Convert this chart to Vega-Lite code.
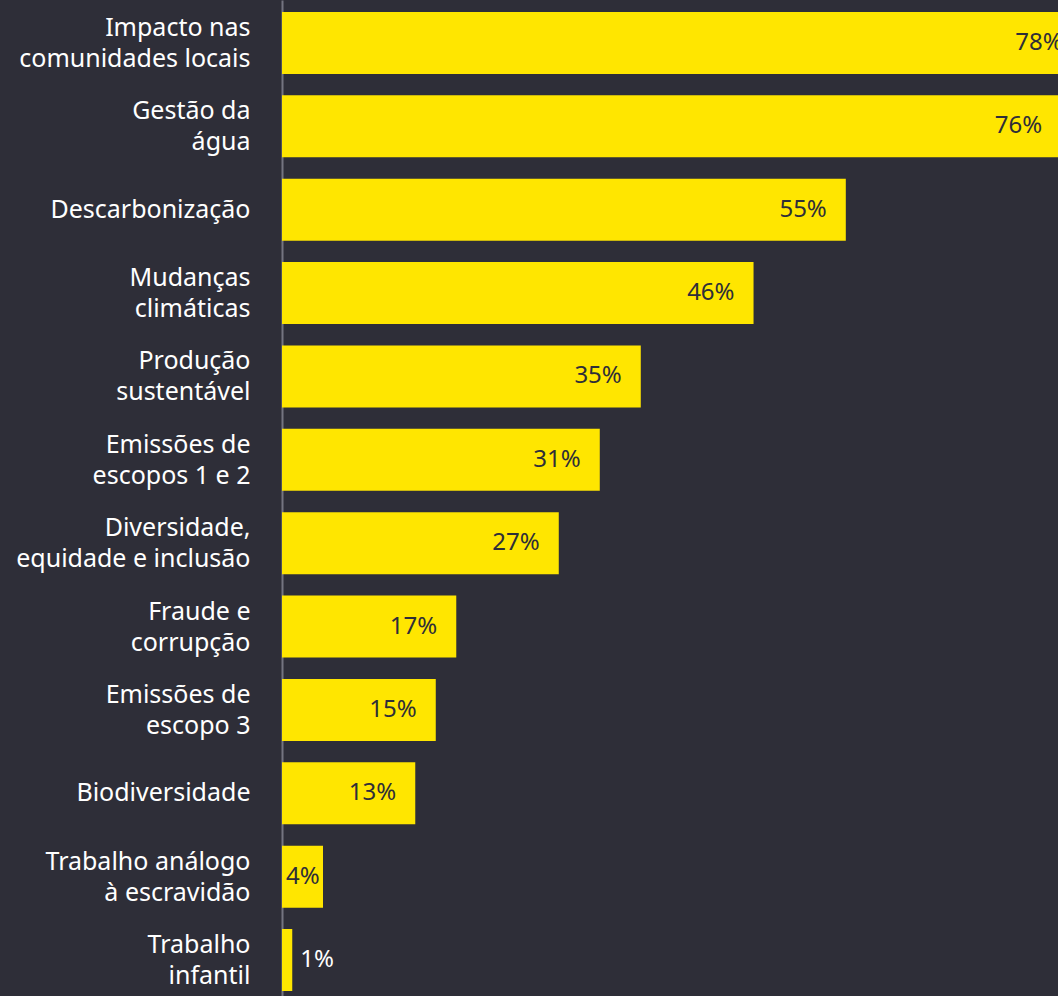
{
  "$schema": "https://vega.github.io/schema/vega-lite/v6.json",
  "width": 776,
  "height": 996,
  "autosize": "none",
  "padding": {"left": 282, "top": 0, "right": 0, "bottom": 0},
  "background": "#2e2e38",
  "config": {"view": {"stroke": null}, "font": "Noto Sans"},
  "data": {"values": [
    {"tema": "Impacto nas|comunidades locais", "pct": 78},
    {"tema": "Gestão da|água", "pct": 76},
    {"tema": "Descarbonização", "pct": 55},
    {"tema": "Mudanças|climáticas", "pct": 46},
    {"tema": "Produção|sustentável", "pct": 35},
    {"tema": "Emissões de|escopos 1 e 2", "pct": 31},
    {"tema": "Diversidade,|equidade e inclusão", "pct": 27},
    {"tema": "Fraude e|corrupção", "pct": 17},
    {"tema": "Emissões de|escopo 3", "pct": 15},
    {"tema": "Biodiversidade", "pct": 13},
    {"tema": "Trabalho análogo|à escravidão", "pct": 4},
    {"tema": "Trabalho|infantil", "pct": 1}
  ]},
  "transform": [{"calculate": "datum.pct + '%'", "as": "rotulo"}],
  "encoding": {
    "y": {
      "field": "tema", "type": "nominal", "sort": null,
      "scale": {"paddingInner": 0.2562, "paddingOuter": 0.102, "align": 0.706},
      "axis": {
        "title": null, "ticks": false, "labelPadding": 32,
        "labelExpr": "split(datum.label, '|')",
        "labelFont": "Noto Sans", "labelFontSize": 25, "labelColor": "#ffffff",
        "labelLineHeight": 31, "labelLimit": 400,
        "labelOffset": {"condition": {"test": "indexof(datum.value, '|') >= 0", "value": -15}, "value": 0},
        "domainColor": "#747480", "domainWidth": 2
      }
    }
  },
  "layer": [
    {
      "mark": {"type": "bar", "color": "#ffe600", "clip": true},
      "encoding": {
        "x": {"field": "pct", "type": "quantitative", "scale": {"domain": [0, 75.7], "nice": false}, "axis": null}
      }
    },
    {
      "transform": [{"filter": "datum.pct >= 10"}],
      "mark": {"type": "text", "align": "right", "baseline": "middle", "dx": -19, "font": "Noto Sans", "fontSize": 24, "color": "#2e2e38", "clip": true},
      "encoding": {
        "x": {"field": "pct", "type": "quantitative"},
        "text": {"field": "rotulo", "type": "nominal"}
      }
    },
    {
      "transform": [{"filter": "datum.pct >= 2 && datum.pct < 10"}],
      "mark": {"type": "text", "align": "left", "baseline": "middle", "dx": 4, "font": "Noto Sans", "fontSize": 24, "color": "#2e2e38"},
      "encoding": {
        "x": {"datum": 0, "type": "quantitative"},
        "text": {"field": "rotulo", "type": "nominal"}
      }
    },
    {
      "transform": [{"filter": "datum.pct < 2"}],
      "mark": {"type": "text", "align": "left", "baseline": "middle", "dx": 8, "font": "Noto Sans", "fontSize": 24, "color": "#ffffff"},
      "encoding": {
        "x": {"field": "pct", "type": "quantitative"},
        "text": {"field": "rotulo", "type": "nominal"}
      }
    }
  ]
}
